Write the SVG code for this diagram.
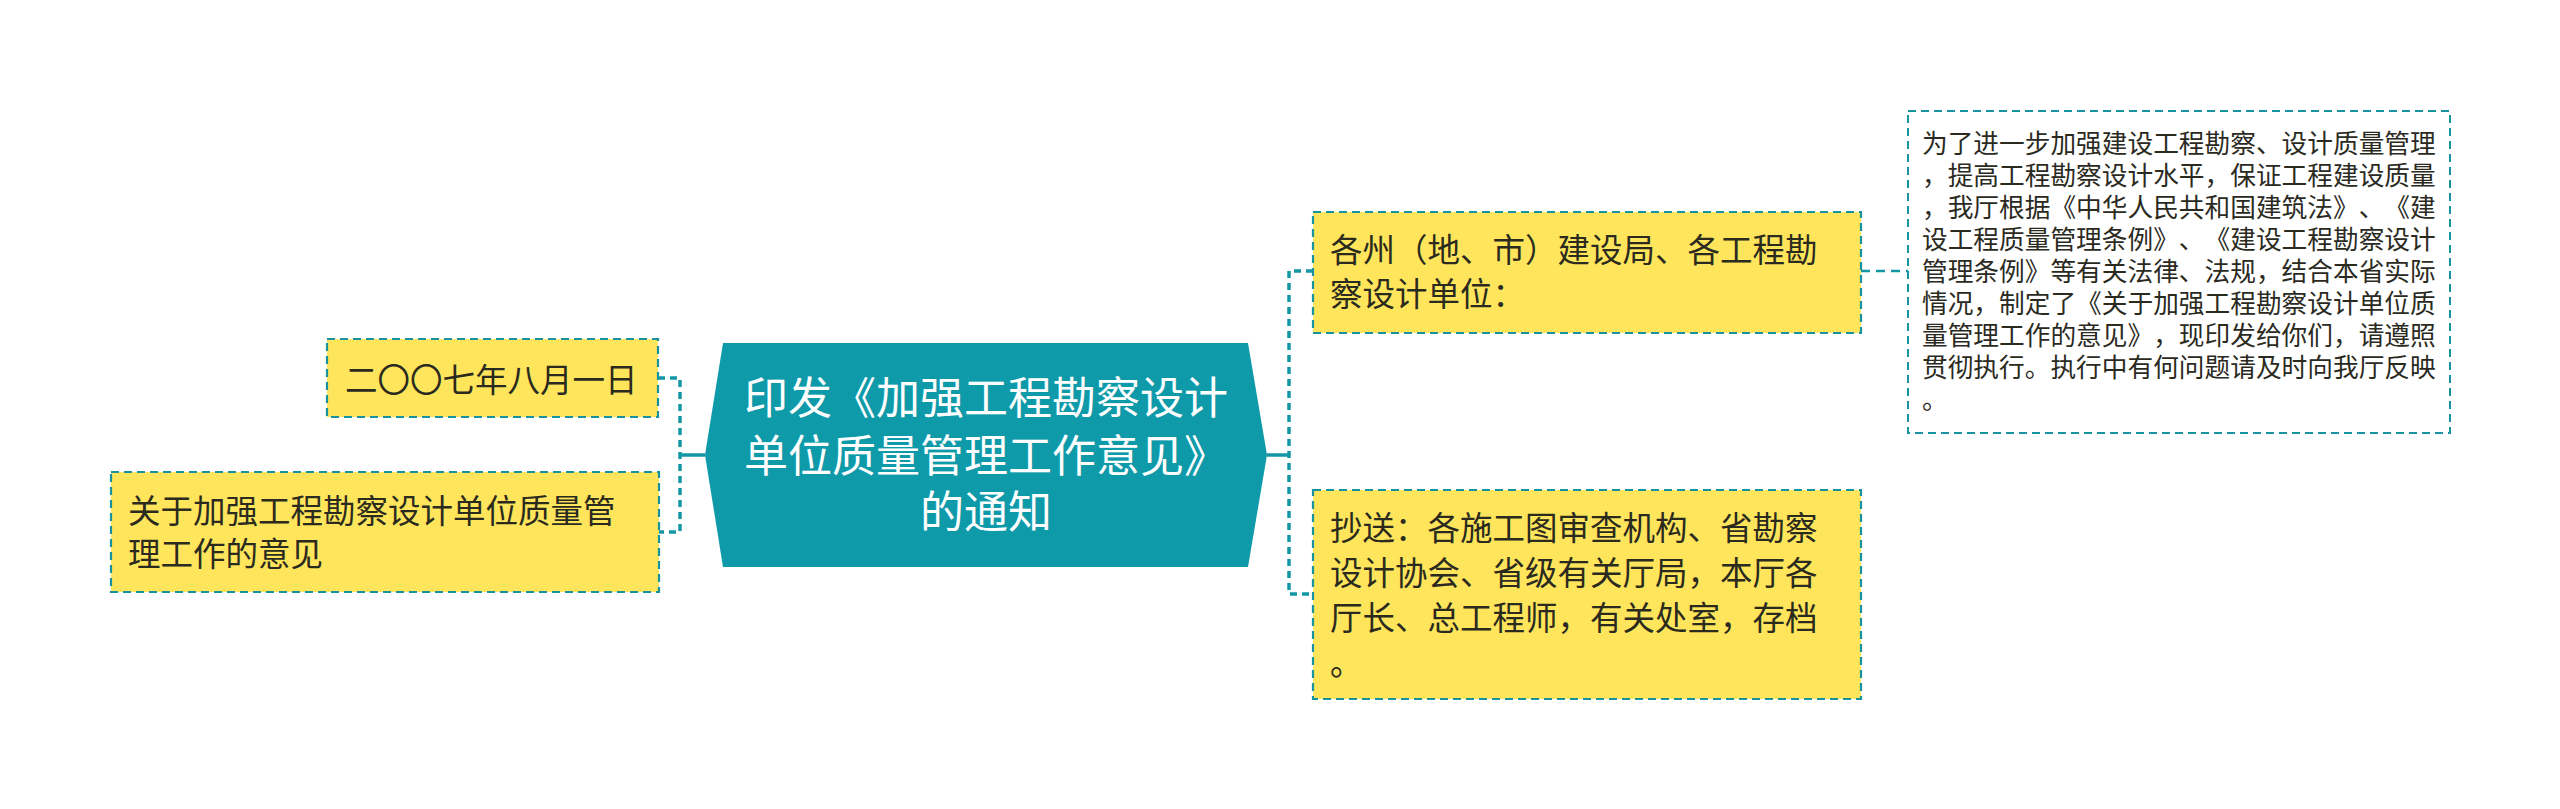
<svg xmlns="http://www.w3.org/2000/svg" width="2560" height="809" viewBox="0 0 2560 809">
<style>
text{text-spacing-trim:space-all;font-kerning:none;font-feature-settings:"palt" 0,"halt" 0,"chws" 0}
.box{fill:#ffe55b;stroke:#16939d;stroke-width:2.2;stroke-dasharray:8 5}
.dbox{fill:#ffffff;stroke:#16939d;stroke-width:2;stroke-dasharray:8 5}
.t{font-family:"Noto Sans CJK SC","Noto Sans CJK JP",sans-serif;fill:#2b2a1e}
.s{font-size:32.5px}
.d{font-size:25.7px}
.c{font-family:"Noto Sans CJK SC","Noto Sans CJK JP",sans-serif;fill:#ffffff;font-size:44px;text-anchor:middle}
.con{fill:none;stroke:#1497a5;stroke-width:3.5;stroke-dasharray:7 5}
.con2{fill:none;stroke:#1497a5;stroke-width:2.5;stroke-dasharray:9 6}
.solid{fill:none;stroke:#1497a5;stroke-width:3.5}
</style>
<rect width="2560" height="809" fill="#ffffff"/>
<g id="connectors">
<path class="con" d="M658,378 H680 V532 H659"/>
<path class="solid" d="M680,455 H705"/>
<path class="con" d="M1313,271 H1289 V594 H1313"/>
<path class="solid" d="M1267,455 H1289"/>
<path class="con2" d="M1861,271 H1908"/>
</g>
<g id="center">
<polygon points="723,343 1248,343 1267,455 1248,567 723,567 705,455" fill="#0f9aaa"/>
<text class="c" x="986" y="414">印发《加强工程勘察设计</text>
<text class="c" x="986" y="472">单位质量管理工作意见》</text>
<text class="c" x="986" y="528">的通知</text>
</g>
<g id="date">
<rect class="box" x="327" y="339" width="331" height="78"/>
<text class="t s" x="345" y="392">二〇〇七年八月一日</text>
</g>
<g id="opinion">
<rect class="box" x="111" y="472" width="548" height="120"/>
<text class="t s" x="128" y="523">关于加强工程勘察设计单位质量管</text>
<text class="t s" x="128" y="566">理工作的意见</text>
</g>
<g id="recipients">
<rect class="box" x="1313" y="212" width="548" height="121"/>
<text class="t s" x="1330" y="262">各州（地、市）建设局、各工程勘</text>
<text class="t s" x="1330" y="306">察设计单位：</text>
</g>
<g id="cc">
<rect class="box" x="1313" y="490" width="548" height="209"/>
<text class="t s" x="1330" y="540">抄送：各施工图审查机构、省勘察</text>
<text class="t s" x="1330" y="585">设计协会、省级有关厅局，本厅各</text>
<text class="t s" x="1330" y="630">厅长、总工程师，有关处室，存档</text>
<text class="t s" x="1330" y="675">。</text>
</g>
<g id="detail">
<rect class="dbox" x="1908" y="111" width="542" height="322"/>
<text class="t d" x="1922" y="153">为了进一步加强建设工程勘察、设计质量管理</text>
<text class="t d" x="1922" y="185">，提高工程勘察设计水平，保证工程建设质量</text>
<text class="t d" x="1922" y="217">，我厅根据《中华人民共和国建筑法》、《建</text>
<text class="t d" x="1922" y="249">设工程质量管理条例》、《建设工程勘察设计</text>
<text class="t d" x="1922" y="281">管理条例》等有关法律、法规，结合本省实际</text>
<text class="t d" x="1922" y="313">情况，制定了《关于加强工程勘察设计单位质</text>
<text class="t d" x="1922" y="345">量管理工作的意见》，现印发给你们，请遵照</text>
<text class="t d" x="1922" y="377">贯彻执行。执行中有何问题请及时向我厅反映</text>
<text class="t d" x="1922" y="409">。</text>
</g>
</svg>
